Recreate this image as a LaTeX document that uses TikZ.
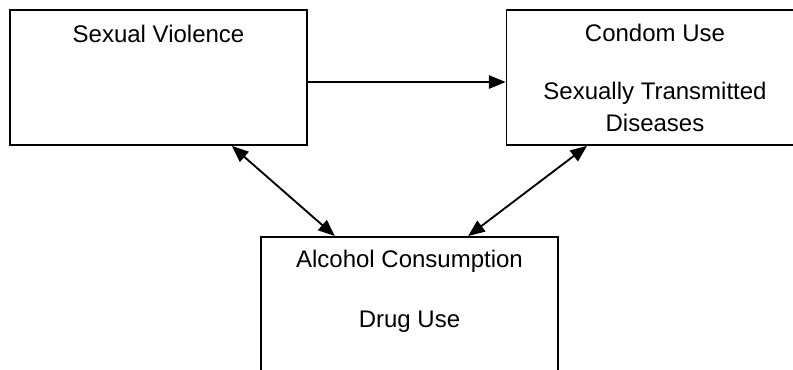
\documentclass[tikz,border=0pt]{standalone}
\usepackage{fontspec}
\setmainfont{Liberation Sans}
\usetikzlibrary{arrows.meta}

\begin{document}
\begin{tikzpicture}[x=0.75pt, y=-0.75pt,
  box/.style={rectangle, draw, line width=1.4pt, minimum width=222.75pt, minimum height=101.25pt, inner sep=0pt},
  lbl/.style={font=\fontsize{18}{22}\selectfont, inner sep=0pt, anchor=base},
  link/.style={line width=1.4pt, -{Triangle[length=12.5pt,width=10pt]}},
  both/.style={line width=1.4pt, {Triangle[length=12.5pt,width=10pt]}-{Triangle[length=12.5pt,width=10pt]}}]
  \clip (0,0) rectangle (793,370);
  \node[box] (sv) at (158.5, 77.5) {};
  \node[box] (cu) at (655, 77.5) {};
  \node[box] (ac) at (409.5, 304.5) {};
  \node[lbl] (svt) at ([yshift=-24.75pt]sv.north) {Sexual Violence};
  \node[lbl] (cut) at ([yshift=-24pt]cu.north) {Condom Use};
  \node[lbl] (stt) at ([yshift=-67.5pt]cu.north) {Sexually Transmitted};
  \node[lbl] (dit) at ([yshift=-91.5pt]cu.north) {Diseases};
  \node[lbl] (act) at ([yshift=-23.25pt]ac.north) {Alcohol Consumption};
  \node[lbl] (dut) at ([yshift=-68.25pt]ac.north) {Drug Use};
  \draw[link] ([yshift=-3.4pt]sv.east) -- ([yshift=-3.4pt]cu.west);
  \draw[both] ([xshift=55pt]sv.south) -- ([xshift=-56pt]ac.north);
  \draw[both] ([xshift=-51pt]cu.south) -- ([xshift=44pt]ac.north);
\end{tikzpicture}
\end{document}
